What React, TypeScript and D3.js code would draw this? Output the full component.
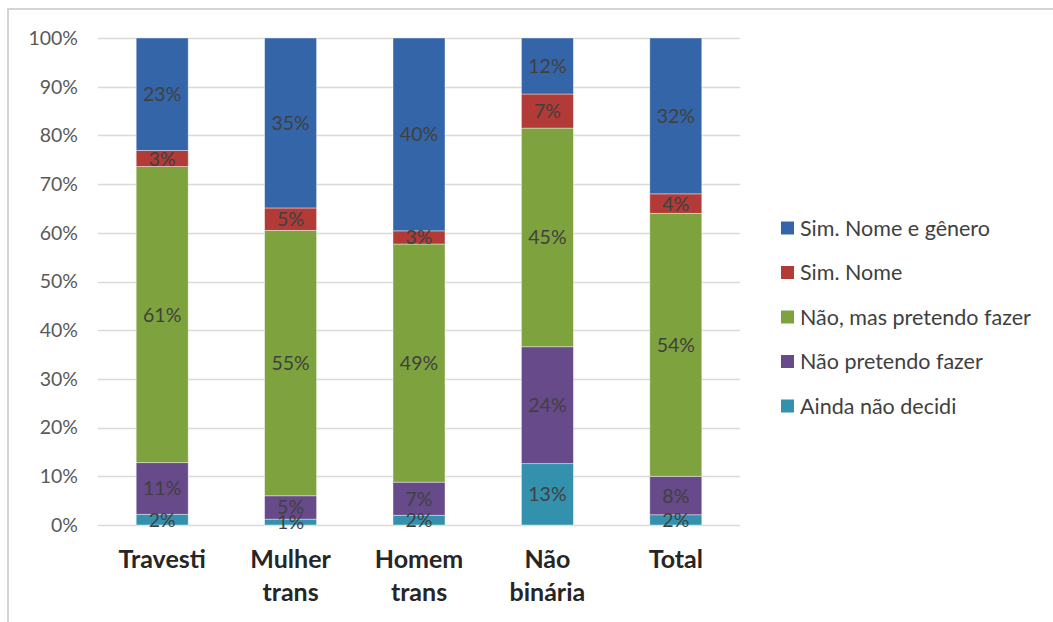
import React from "react";
import * as d3 from "d3";

const categories: string[][] = [["Travesti"], ["Mulher", "trans"], ["Homem", "trans"], ["Não", "binária"], ["Total"]];
const seriesNames = ["Ainda não decidi", "Não pretendo fazer", "Não, mas pretendo fazer", "Sim. Nome", "Sim. Nome e gênero"];
const seriesColors = ["#3391ae", "#674a8a", "#7ea33e", "#b23b37", "#3465a8"];
// values per series, ordered by category
const aindaNaoDecidi = [2.2, 1.2, 2.0, 12.6, 2.1];
const naoPretendo = [10.6, 4.8, 6.8, 24.0, 7.9];
const naoMasPretendo = [60.8, 54.5, 48.9, 44.9, 54.0];
const simNome = [3.3, 4.6, 2.7, 7.0, 4.0];
const simNomeGenero = [23.1, 34.9, 39.6, 11.5, 32.0];
const yTicks = [0, 10, 20, 30, 40, 50, 60, 70, 80, 90, 100];

const series = [aindaNaoDecidi, naoPretendo, naoMasPretendo, simNome, simNomeGenero];
const legendOrder = [4, 3, 2, 1, 0];
const FONT = "Lato, 'Open Sans', sans-serif";

export default function App() {
  const W = 1053, H = 622;
  const keys = categories.map((c) => c.join(" "));
  const x = d3.scaleBand<string>().domain(keys).range([98, 740]).paddingInner(0.595).paddingOuter(0.2975);
  const y = d3.scaleLinear().domain([0, 100]).range([525, 38]);
  const rows = keys.map((k, i) => {
    const o: any = { key: k };
    seriesNames.forEach((s, j) => (o[s] = series[j][i]));
    return o;
  });
  const stacked = d3.stack<any>().keys(seriesNames)(rows);

  return (
    <svg width={W} height={H} style={{ position: "absolute", left: 0, top: 0, background: "#fff" }} fontFamily={FONT}>
      <rect x={8} y={9} width={1200} height={800} fill="none" stroke="#d4d4d4" strokeWidth={2} />
      {yTicks.map((t) => (
        <g key={t}>
          <line x1={98} x2={740} y1={Math.round(y(t)) + 0.5} y2={Math.round(y(t)) + 0.5} stroke="#d9d9d9" strokeWidth={1.5} />
          <text x={78} y={y(t)} dy="0.35em" textAnchor="end" fontSize={19.5} fill="#595959">{t}%</text>
        </g>
      ))}
      {stacked.map((layer, si) => (
        <g key={layer.key}>
          {layer.map((d, ci) => (
            <rect key={ci} x={x(keys[ci])} y={y(d[1])} width={x.bandwidth()} height={y(d[0]) - y(d[1])}
              fill={seriesColors[si]} stroke="#ffffff" strokeOpacity={0.5} strokeWidth={0.8} />
          ))}
        </g>
      ))}
      {stacked.map((layer, si) => (
        <g key={"l" + layer.key}>
          {layer.map((d, ci) => (
            <text key={ci} x={(x(keys[ci]) as number) + x.bandwidth() / 2} y={(y(d[0]) + y(d[1])) / 2} dy="0.36em"
              textAnchor="middle" fontSize={19.5} fill="#404040">{Math.round(d[1] - d[0])}%</text>
          ))}
        </g>
      ))}
      {categories.map((lines, ci) => (
        <text key={ci} x={(x(keys[ci]) as number) + x.bandwidth() / 2} y={568} textAnchor="middle" fontSize={25} fontWeight="bold" fill="#262626">
          {lines.map((l, li) => (
            <tspan key={li} x={(x(keys[ci]) as number) + x.bandwidth() / 2} dy={li === 0 ? 0 : 33}>{l}</tspan>
          ))}
        </text>
      ))}
      {legendOrder.map((si, i) => (
        <g key={si} transform={`translate(781, ${228 + i * 44.5})`}>
          <rect x={0} y={-6.5} width={13} height={13} fill={seriesColors[si]} />
          <text x={19} y={0} dy="0.35em" fontSize={21.5} fill="#404040">{seriesNames[si]}</text>
        </g>
      ))}
    </svg>
  );
}
